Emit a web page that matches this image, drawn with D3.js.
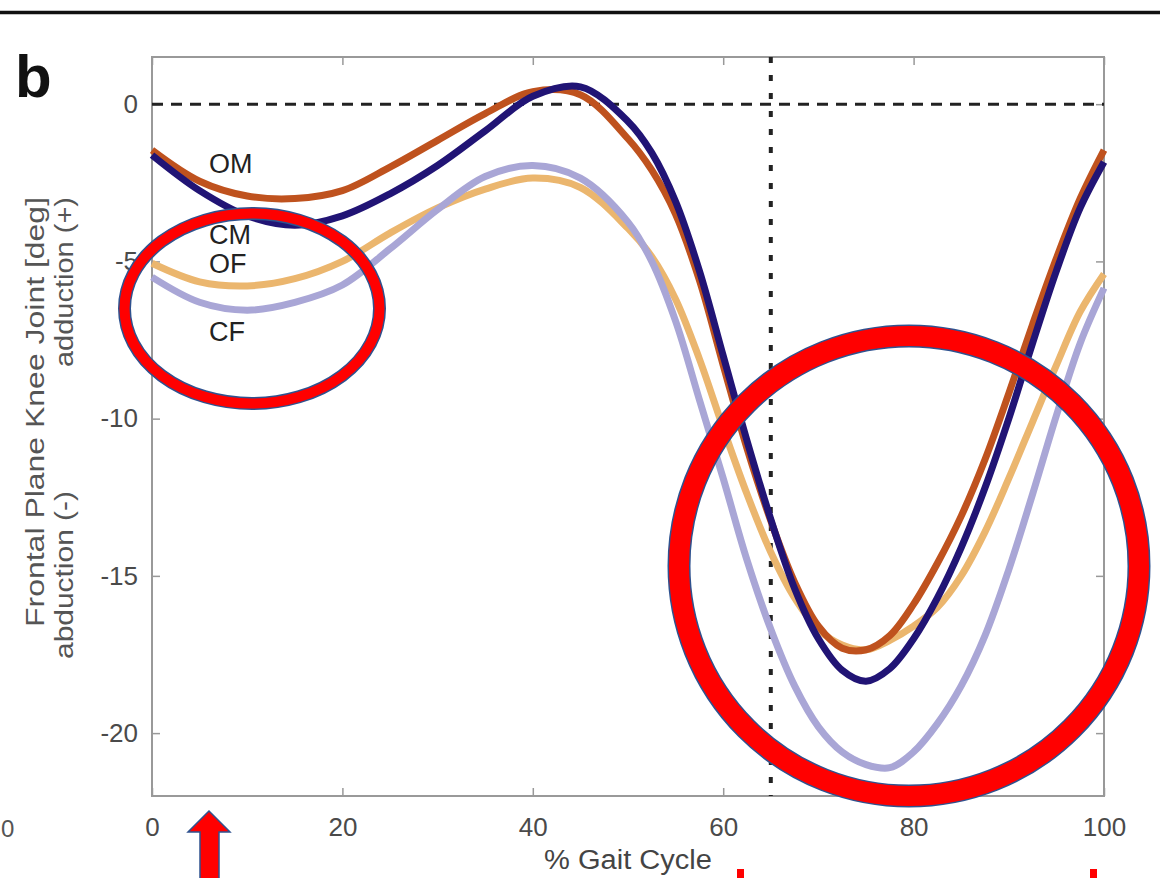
<!DOCTYPE html>
<html>
<head>
<meta charset="utf-8">
<script src="https://cdn.jsdelivr.net/npm/d3@7"></script>
<style>
  body { margin: 0; background: #fff; }
  svg { display: block; font-family: "Liberation Sans", Arial, sans-serif; }
</style>
</head>
<body>
<svg id="chart" width="1160" height="878"></svg>
<script>
// % gait cycle sample points
var gaitPct = [0,5,10,15,20,25,30,35,40,45,50,52.5,55,57.5,60,62.5,65,67.5,70,72.5,75,77.5,80,82.5,85,87.5,90,92.5,95,97.5,100];

// frontal plane knee angle [deg] per group
var omVals = [-1.46,-2.45,-2.92,-3.0,-2.75,-2.0,-1.15,-0.3,0.4,0.3,-1.1,-2.1,-3.5,-5.6,-8.3,-10.95,-13.25,-15.2,-16.6,-17.3,-17.35,-16.9,-15.9,-14.6,-13.1,-11.3,-9.2,-7.0,-4.9,-3.0,-1.46];
var cmVals = [-1.62,-2.75,-3.55,-3.85,-3.55,-2.85,-1.95,-0.85,0.25,0.55,-0.55,-1.55,-3.1,-5.3,-8.0,-10.7,-13.2,-15.4,-17.0,-18.0,-18.35,-17.95,-17.0,-15.7,-14.1,-12.2,-10.0,-7.6,-5.3,-3.3,-1.84];
var ofVals = [-5.06,-5.65,-5.78,-5.55,-5.0,-4.1,-3.3,-2.7,-2.35,-2.65,-3.95,-4.85,-6.2,-8.1,-10.3,-12.4,-14.25,-15.7,-16.7,-17.2,-17.35,-17.05,-16.6,-16.0,-15.0,-13.6,-11.9,-10.1,-8.3,-6.6,-5.4];
var cfVals = [-5.5,-6.3,-6.55,-6.3,-5.75,-4.6,-3.35,-2.3,-1.95,-2.35,-3.75,-5.0,-6.9,-9.4,-11.9,-14.5,-16.7,-18.5,-19.8,-20.6,-21.0,-21.1,-20.6,-19.7,-18.5,-16.9,-14.8,-12.4,-9.9,-7.6,-5.85];

var groups = [
  {name: "OF", vals: ofVals, color: "#ebb66e"},
  {name: "CF", vals: cfVals, color: "#a9a6d6"},
  {name: "OM", vals: omVals, color: "#bf521e"},
  {name: "CM", vals: cmVals, color: "#211475"}
];

var xTicks = [0,20,40,60,80,100];
var yTicks = [-20,-15,-10,-5,0];
var toeOff = 65;

var svg = d3.select("#chart");

var x = d3.scaleLinear().domain([0,100]).range([152,1104]);
var y = d3.scaleLinear().domain([-22,1.5]).range([796,57]);

// top rule of the figure
svg.append("line").attr("x1",0).attr("x2",1160).attr("y1",12.5).attr("y2",12.5)
  .attr("stroke","#111").attr("stroke-width",3.5);

svg.append("text").attr("x",15).attr("y",97).text("b")
  .attr("font-size",60).attr("font-weight","bold").attr("fill","#111");

// label left over from the neighbouring panel
svg.append("text").attr("x",1).attr("y",837)
  .attr("font-size",24).attr("fill","#555").text("0");

// axes
var plain = function(d) { return String(d); };
var gx = svg.append("g").attr("transform","translate(0,796)")
  .call(d3.axisBottom(x).tickValues(xTicks).tickFormat(plain).tickSizeInner(-8).tickSizeOuter(0).tickPadding(22));
var gxt = svg.append("g").attr("transform","translate(0,57)")
  .call(d3.axisTop(x).tickValues(xTicks).tickSizeInner(-8).tickSizeOuter(0).tickFormat(""));
var gy = svg.append("g").attr("transform","translate(152,0)")
  .call(d3.axisLeft(y).tickValues(yTicks).tickFormat(plain).tickSizeInner(-8).tickSizeOuter(0).tickPadding(14));
var gyr = svg.append("g").attr("transform","translate(1104,0)")
  .call(d3.axisRight(y).tickValues(yTicks).tickSizeInner(-8).tickSizeOuter(0).tickFormat(""));

[gx,gxt,gy,gyr].forEach(function(g) {
  g.select(".domain").remove();
  g.selectAll("line").attr("stroke","#999").attr("stroke-width",1.5);
  g.selectAll("text").attr("font-size",26).attr("fill","#4a4a4a")
    .attr("font-family","Liberation Sans, Arial, sans-serif");
});

svg.append("rect").attr("x",152).attr("y",57).attr("width",952).attr("height",739)
  .attr("fill","none").attr("stroke","#999").attr("stroke-width",2);

// reference lines
svg.append("line").attr("x1",x(0)).attr("x2",x(100)).attr("y1",y(0)).attr("y2",y(0))
  .attr("stroke","#222").attr("stroke-width",3).attr("stroke-dasharray","11,8");
svg.append("line").attr("x1",x(toeOff)).attr("x2",x(toeOff)).attr("y1",y(1.5)).attr("y2",y(-22))
  .attr("stroke","#222").attr("stroke-width",4).attr("stroke-dasharray","6,12");

// curves
var line = d3.line()
  .x(function(d, i) { return x(gaitPct[i]); })
  .y(function(d) { return y(d); })
  .curve(d3.curveCatmullRom.alpha(0.5));

svg.append("g").selectAll("path")
  .data(groups)
  .enter()
  .append("path")
  .attr("d", function(d) { return line(d.vals); })
  .attr("fill","none")
  .attr("stroke", function(d) { return d.color; })
  .attr("stroke-width",7)
  .attr("stroke-linejoin","round");

// group labels
var labelPos = [["OM",163],["CM",234],["OF",263],["CF",331]];
labelPos.forEach(function(l) {
  svg.append("text").attr("x",209).attr("y",l[1]).attr("dy","0.36em")
    .attr("font-size",27).attr("fill","#222").text(l[0]);
});

// axis titles
svg.append("text").attr("x",628).attr("y",869).attr("text-anchor","middle")
  .attr("font-size",27).attr("fill","#444")
  .attr("textLength",168).attr("lengthAdjust","spacingAndGlyphs")
  .text("% Gait Cycle");

svg.append("text").attr("transform","translate(44,412) rotate(-90)")
  .attr("text-anchor","middle").attr("font-size",26).attr("fill","#555")
  .attr("textLength",430).attr("lengthAdjust","spacingAndGlyphs")
  .text("Frontal Plane Knee Joint [deg]");
svg.append("text").attr("transform","translate(73,282) rotate(-90)")
  .attr("text-anchor","middle").attr("font-size",26).attr("fill","#555")
  .attr("textLength",170).attr("lengthAdjust","spacingAndGlyphs")
  .text("adduction (+)");
svg.append("text").attr("transform","translate(73,575) rotate(-90)")
  .attr("text-anchor","middle").attr("font-size",26).attr("fill","#555")
  .attr("textLength",168).attr("lengthAdjust","spacingAndGlyphs")
  .text("abduction (-)");

// red annotations
function ring(cx, cy, rx, ry, w) {
  svg.append("ellipse").attr("cx",cx).attr("cy",cy).attr("rx",rx).attr("ry",ry)
    .attr("fill","none").attr("stroke","#2f528f").attr("stroke-width",w + 3);
  svg.append("ellipse").attr("cx",cx).attr("cy",cy).attr("rx",rx).attr("ry",ry)
    .attr("fill","none").attr("stroke","#ff0000").attr("stroke-width",w);
}
ring(252, 308.5, 127.5, 95, 10);
ring(909, 566, 230, 230, 20);

svg.append("path")
  .attr("d","M209,811 L188,832 L200,832 L200,882 L219,882 L219,832 L230,832 Z")
  .attr("fill","#ff0000").attr("stroke","#2f528f").attr("stroke-width",1.5);

svg.append("rect").attr("x",737).attr("y",869).attr("width",7).attr("height",12).attr("fill","#ff0000");
svg.append("rect").attr("x",1090).attr("y",869).attr("width",7).attr("height",12).attr("fill","#ff0000");
</script>
</body>
</html>
